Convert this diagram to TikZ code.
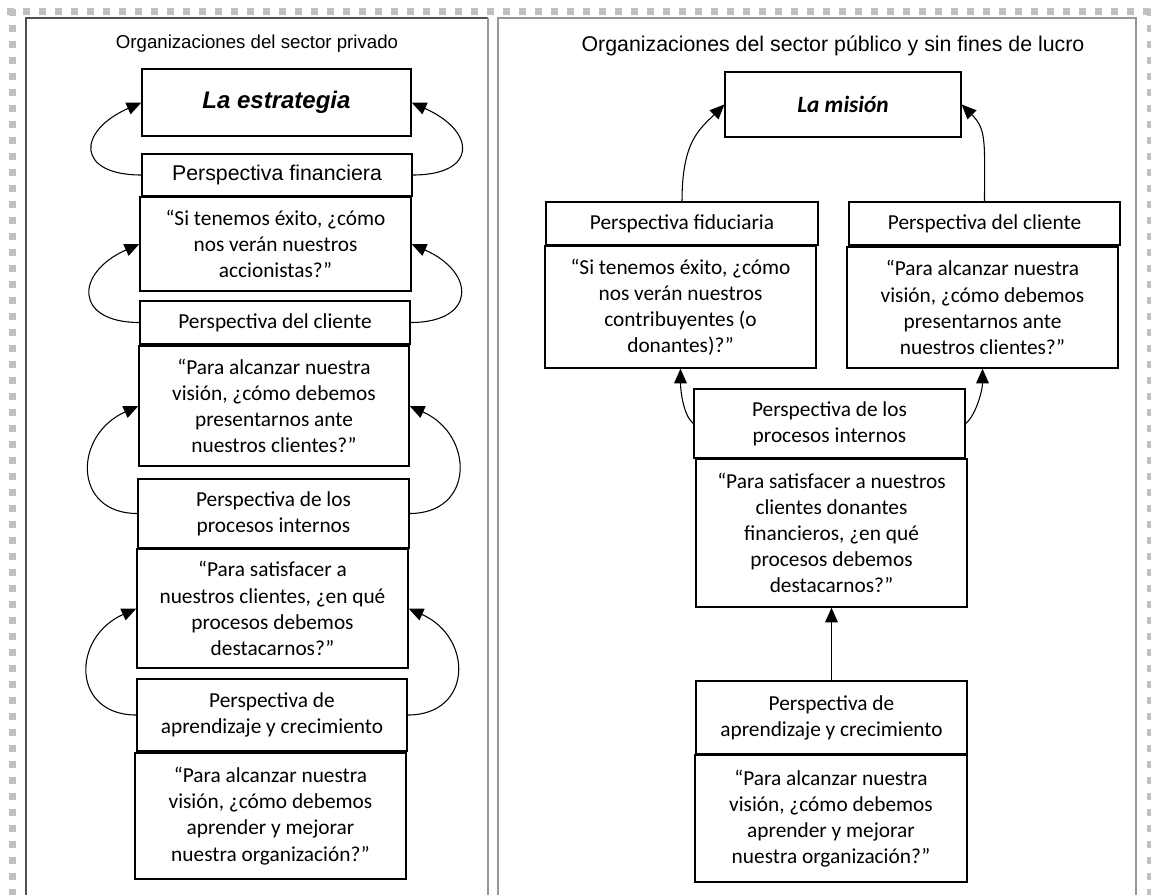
\documentclass[tikz,border=0pt]{standalone}
\usepackage{fontspec}
\usetikzlibrary{arrows.meta}
\newfontfamily\arialf{Liberation Sans}
\newfontfamily\calf{Carlito}
\definecolor{dashgray}{RGB}{192,192,192}
\definecolor{frameDark}{RGB}{80,80,80}
\definecolor{frameLight}{RGB}{150,150,150}
\newcommand\qfont{\calf\fontsize{16pt}{19.6pt}\selectfont}
\newcommand\titleL{\arialf\fontsize{14pt}{17pt}\selectfont}
\newcommand\titleR{\arialf\fontsize{16pt}{19pt}\selectfont}
\tikzset{
  box/.style={draw=black, line width=1pt, inner sep=0pt, align=center, font=\qfont},
  link/.style={line width=0.8pt, -{Triangle[length=11pt,width=9.5pt]}},
  frameline/.style={line width=1pt},
}
% box given by its corners (x1,y1)-(x2,y2), in pixel units
\newcommand\cornerbox[7]{\node[box,#1,minimum width={(#5-#3)*0.75pt},minimum height={(#6-#4)*0.75pt}] (#2) at ({(#3+#5)/2},{(#4+#6)/2}) {#7};}
\begin{document}
\begin{tikzpicture}[x=0.75pt,y=-0.75pt]
\useasboundingbox (0,0) rectangle (1151,894);
\clip (0,0) rectangle (1151,894);
\fill[white] (0,0) rectangle (1151,894);

% dotted page border
\foreach \k in {0,...,71} \fill[dashgray] ({7+16*\k},8) rectangle ++(7,7);
\foreach \k in {0,...,55} {
  \fill[dashgray] (9,{9+16*\k}) rectangle ++(7,7);
  \fill[dashgray] (1147,{9+16*\k}) rectangle ++(7,7);
}

% panel frames
\draw[frameline, frameDark] (26,900) -- (26,18) -- (488,18);
\draw[frameline, frameLight] (488,18) -- (488,900);
\draw[frameline, frameLight] (498,900) -- (498,18) -- (1136,18) -- (1136,900);

% titles
\node[font=\titleL, anchor=base, inner sep=0pt] (tl) at (257,48) {Organizaciones del sector privado};
\node[font=\titleR, anchor=base, inner sep=0pt] (tr) at (833,51) {Organizaciones del sector público y sin fines de lucro};

% ---- private sector column ----
\cornerbox{font=\arialf\fontsize{18pt}{21pt}\selectfont\bfseries\itshape}{est}{142}{69}{411}{136}{La estrategia}
\cornerbox{font=\arialf\fontsize{16pt}{19pt}\selectfont}{pf}{142}{154}{412}{196}{Perspectiva financiera}
\cornerbox{}{q1}{140}{197}{411}{291}{“Si tenemos éxito, ¿cómo\\nos verán nuestros\\accionistas?”}
\cornerbox{}{pc}{140}{301}{410}{344}{Perspectiva del cliente}
\cornerbox{}{q2}{139}{346}{409}{466}{“Para alcanzar nuestra\\visión, ¿cómo debemos\\presentarnos ante\\nuestros clientes?”}
\cornerbox{}{pp}{138}{479}{409}{548}{Perspectiva de los\\procesos internos}
\cornerbox{}{q3}{137}{549}{408}{668}{“Para satisfacer a\\nuestros clientes, ¿en qué\\procesos debemos\\destacarnos?”}
\cornerbox{}{pa}{137}{679}{407}{751}{Perspectiva de\\aprendizaje y crecimiento}
\cornerbox{}{q4}{135}{753}{406}{879}{“Para alcanzar nuestra\\visión, ¿cómo debemos\\aprender y mejorar\\nuestra organización?”}

\foreach \a/\b in {pf/est, pc/q1, pp/q2, pa/q3} {
  \draw[link] (\a.west) .. controls +(-65,0) and +(-65,29) .. (\b.west);
  \draw[link] (\a.east) .. controls +(65,0) and +(65,29) .. (\b.east);
}

% ---- public / non-profit column ----
\cornerbox{font=\calf\fontsize{17.5pt}{21pt}\selectfont\bfseries\itshape}{mis}{725}{72}{961}{137}{La misión}
\cornerbox{}{fid}{546}{202}{818}{245}{Perspectiva fiduciaria}
\cornerbox{}{cli}{849}{202}{1120}{245}{Perspectiva del cliente}
\cornerbox{}{qf}{545}{246}{816}{368}{“Si tenemos éxito, ¿cómo\\nos verán nuestros\\contribuyentes (o\\donantes)?”}
\cornerbox{}{qc}{847}{247}{1118}{368}{“Para alcanzar nuestra\\visión, ¿cómo debemos\\presentarnos ante\\nuestros clientes?”}
\cornerbox{}{rp}{694}{389}{965}{458}{Perspectiva de los\\procesos internos}
\cornerbox{}{qp}{696}{459}{967}{607}{“Para satisfacer a nuestros\\clientes donantes\\financieros, ¿en qué\\procesos debemos\\destacarnos?”}
\cornerbox{}{ra}{696}{681}{967}{754}{Perspectiva de\\aprendizaje y crecimiento}
\cornerbox{}{qa}{695}{755}{967}{882}{“Para alcanzar nuestra\\visión, ¿cómo debemos\\aprender y mejorar\\nuestra organización?”}

\draw[link] (fid.north) .. controls +(0,-60) and +(-25,25) .. (mis.west);
\draw[link] (cli.north) .. controls +(0,-60) and +(25,25) .. (mis.east);
\draw[link] (rp.west) .. controls +(-10,-8) and +(0,22) .. (qf.south);
\draw[link] (rp.east) .. controls +(10,-8) and +(0,22) .. (qc.south);
\draw[link] (ra.north) -- (qp.south);
\end{tikzpicture}
\end{document}
